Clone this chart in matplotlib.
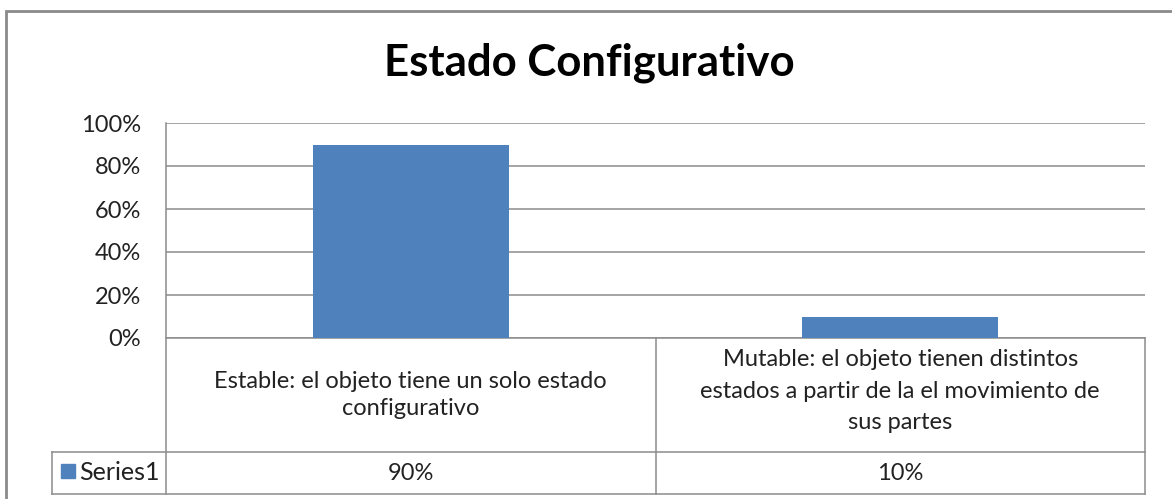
import matplotlib
matplotlib.use("Agg")
import matplotlib.pyplot as plt
import matplotlib.transforms as mtransforms
from matplotlib.patches import Rectangle

# ---- data ----
title = "Estado Configurativo"
categories = ["Estable: el objeto tiene un solo estado\nconfigurativo",
              "Mutable: el objeto tienen distintos\nestados a partir de la el movimiento de\nsus partes"]
values = [0.90, 0.10]
series_name = "Series1"
yticks = [0, 0.2, 0.4, 0.6, 0.8, 1.0]
ytick_labels = ["0%", "20%", "40%", "60%", "80%", "100%"]

bar_color = "#4F81BD"
line_color = "#8C8C8C"
text_color = "#222222"
plt.rcParams["font.family"] = ["Lato", "DejaVu Sans"]

W, H = 1172, 499
fig = plt.figure(figsize=(W / 100, H / 100), dpi=100)

# plot area in pixels
left, right, top, bottom = 166, 1145, 123, 338
ax = fig.add_axes([left / W, 1 - bottom / H, (right - left) / W, (bottom - top) / H])

x = list(range(len(values)))
ax.bar(x, values, width=0.4, color=bar_color, zorder=3)
ax.set_xlim(-0.5, len(values) - 0.5)
ax.set_ylim(0, 1)
ax.set_yticks(yticks)
ax.set_yticklabels(ytick_labels, fontsize=17, color=text_color)
ax.tick_params(axis="y", length=0, pad=18)
ax.set_xticks([])
ax.grid(axis="y", color=line_color, linewidth=1.1, zorder=0)
for s in ["top", "right", "bottom", "left"]:
    ax.spines[s].set_visible(False)

#======== data table under the plot ========#
px_h = bottom - top
def yax(py):
    # pixel row -> axes fraction
    return (bottom - py) / px_h

tr = mtransforms.blended_transform_factory(ax.transData, ax.transAxes)
xpx = 2.0 / (right - left)  # data units per pixel
x_leg = -0.5 + (52 - left) * xpx
row1, row2 = 452, 494
lw = 1.1

# horizontal lines
ax.plot([-0.5, 1.5], [yax(bottom)] * 2, transform=tr, color=line_color, lw=lw, clip_on=False)
ax.plot([x_leg, 1.5], [yax(row1)] * 2, transform=tr, color=line_color, lw=lw, clip_on=False)
ax.plot([x_leg, 1.5], [yax(row2)] * 2, transform=tr, color=line_color, lw=lw, clip_on=False)
# vertical lines
ax.plot([-0.5, -0.5], [yax(top), yax(row2)], transform=tr, color=line_color, lw=lw, clip_on=False)
ax.plot([0.5, 0.5], [yax(bottom), yax(row2)], transform=tr, color=line_color, lw=lw, clip_on=False)
ax.plot([1.5, 1.5], [yax(bottom), yax(row2)], transform=tr, color=line_color, lw=lw, clip_on=False)
ax.plot([x_leg, x_leg], [yax(row1), yax(row2)], transform=tr, color=line_color, lw=lw, clip_on=False)

spacing = [1.3, 1.6]
centers = [395, 391]
for i, cat in enumerate(categories):
    ax.text(i, yax(centers[i]), cat, transform=tr, ha="center", va="center",
            fontsize=17, color=text_color, linespacing=spacing[i])
    ax.text(i, yax((row1 + row2) / 2), f"{values[i]:.0%}", transform=tr, ha="center",
            va="center", fontsize=17, color=text_color)

# legend key + series name
ax.add_patch(Rectangle((-0.5 + (61 - left) * xpx, yax(478)), 14 * xpx, 14 / px_h,
                       transform=tr, color=bar_color, clip_on=False))
ax.text(-0.5 + (79 - left) * xpx, yax((row1 + row2) / 2), series_name, transform=tr,
        ha="left", va="center", fontsize=18, color=text_color)

# title
fig.text(589 / W, 1 - 63 / H, title, ha="center", va="center", fontsize=31.5,
         fontweight="bold", color="black")

# outer chart border
fig.add_artist(Rectangle((6 / W, -0.1), 1.2, 1 - 11 / H + 0.1, transform=fig.transFigure,
                         fill=False, edgecolor="#8A8A8A", linewidth=2))

fig.savefig("out.png", dpi=100)
